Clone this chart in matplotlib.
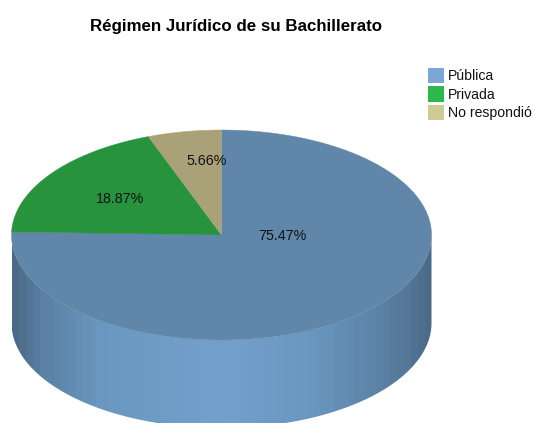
import numpy as np
import matplotlib
matplotlib.use('Agg')
import matplotlib.pyplot as plt
from matplotlib.colors import LinearSegmentedColormap
from matplotlib.patches import Polygon, Rectangle

plt.rcParams['font.family'] = ['Liberation Sans', 'DejaVu Sans']

title = 'Régimen Jurídico de su Bachillerato'
categories = ['Pública', 'Privada', 'No respondió']
percents = [75.47, 18.87, 5.66]
labels = ['75.47%', '18.87%', '5.66%']

# colours of the top face and of the legend
top_colors = ['#6087AA', '#27933D', '#A9A278']
legend_colors = ['#7BA7D7', '#2DB84D', '#D0CB96']
side_stops = [(0, '#4A6A88'), (0.06, '#5A7FA2'), (0.2, '#6A97BF'), (0.5, '#74A1CC'),
              (0.72, '#6A97BF'), (0.85, '#5F86AB'), (0.95, '#557797'), (1, '#4A6A88')]

# pie geometry in pixels
cx, cy = 221.5, 235
rx, ry = 210, 105
depth = 88

label_pos = [(282.5, 236.5), (120, 199), (207, 161)]

fig = plt.figure(figsize=(5.33, 4.23), dpi=100)
ax = fig.add_axes([0, 0, 1, 1])


def ellipse_points(start, end, y0):
    # angles are clockwise from the top
    t = np.radians(np.linspace(start, end, 200))
    return np.column_stack([cx + rx * np.sin(t), y0 - ry * np.cos(t)])


# Side of the pie, a gradient clipped to the front wall
cmap = LinearSegmentedColormap.from_list('side', side_stops)
front = np.vstack([ellipse_points(90, 270, cy), ellipse_points(270, 90, cy + depth)])
clip = Polygon(front, closed=True, transform=ax.transData, facecolor='none', edgecolor='none')
ax.add_patch(clip)
# 60 steps so it gets the same banding as the original
grad = np.linspace(0, 1, 60).reshape(1, -1)
im = ax.imshow(grad, cmap=cmap, extent=[cx - rx, cx + rx, cy + depth + ry, cy], aspect='auto')
im.set_clip_path(clip)

# Top face
angle = 0
for pct, col in zip(percents, top_colors):
    sweep = pct / sum(percents) * 360
    pts = np.vstack([[cx, cy], ellipse_points(angle, angle + sweep, cy)])
    ax.add_patch(Polygon(pts, closed=True, facecolor=col, edgecolor=col, linewidth=0.3))
    angle += sweep

for txt, (x, y) in zip(labels, label_pos):
    ax.text(x, y, txt, ha='center', va='center', fontsize=10.3, color='#111111')

ax.text(236.5, 26.5, title, ha='center', va='center', fontsize=12.2, fontweight='bold', color='black')

# Legend
for i, (name, col) in enumerate(zip(categories, legend_colors)):
    y = 68 + i * 18.3
    ax.add_patch(Rectangle((428, y), 16, 15.5, facecolor=col, edgecolor='none'))
    ax.text(447.5, y + 8.5, name, ha='left', va='center', fontsize=10.1, color='#111111')

ax.set_xlim(0, 533)
ax.set_ylim(423, 0)
ax.axis('off')

plt.savefig('out.png', dpi=100)
plt.close()
